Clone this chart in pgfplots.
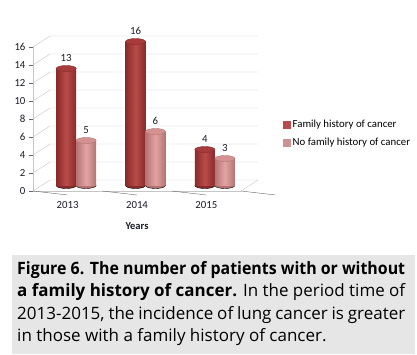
\documentclass[border=0pt]{standalone}
\usepackage{pgfplots}
\pgfplotsset{compat=1.18}
\usepackage{fontspec}
\setmainfont{Carlito}
\newfontfamily\capfont{Open Sans}
\definecolor{redA}{HTML}{B84C4A}
\definecolor{redD}{HTML}{8A2A2A}
\definecolor{redT}{HTML}{A53C3B}
\definecolor{pinkA}{HTML}{E2A4A3}
\definecolor{pinkD}{HTML}{B47372}
\definecolor{pinkT}{HTML}{D39291}
\definecolor{capbg}{HTML}{E6E6E6}
\definecolor{gridc}{HTML}{C4C4C4}
\definecolor{lblc}{HTML}{1A1A2A}
\pgfplotsset{
  redbar/.style={forget plot, ybar, bar width=20pt, bar shift=0pt, draw=none, left color=redD, right color=redD, middle color=redA},
  pinkbar/.style={forget plot, ybar, bar width=20pt, bar shift=0pt, draw=none, left color=pinkD, right color=pinkD, middle color=pinkA},
}
\begin{document}
\begin{tikzpicture}[x=1pt,y=1pt]
\path[use as bounding box] (0,0) rectangle (417,354);
\fill[capbg] (12,0) rectangle (415,99);
\node[anchor=base west, inner sep=0pt] at (17,80) {\parbox[t]{388pt}{\capfont\fontsize{17}{22.6}\selectfont\sloppy
\resizebox{388pt}{\height}{\bfseries Figure 6. The number of patients with or without}\par
\resizebox{388pt}{\height}{{\bfseries a family history of cancer.} In the period time of}\par
2013-2015, the incidence of lung cancer is greater\linebreak in those with a family history of cancer.}};

\begin{axis}[name=front, at={(33pt,163pt)}, anchor=south west, scale only axis,
  width=208pt, height=144pt, xmin=-0.5, xmax=2.5, ymin=0, ymax=16, clip=false,
  axis x line*=bottom, axis y line*=left, axis line style={draw=gray!45, -},
  ytick={0,2,...,16}, xtick={0,1,2}, xticklabels={2013,2014,2015},
  x tick style={draw=none}, y tick style={draw=gray!80!black},
  tick align=outside, major tick length=4pt,
  /pgf/number format/assume math mode=true,
  ticklabel style={font=\fontsize{10.8}{12}\selectfont, text=lblc},
  xticklabel style={yshift=-3pt},
  xlabel={\textbf{Years}}, xlabel style={font=\fontsize{10.5}{12}\selectfont, text=lblc, yshift=-7pt},
]
\pgfplotsinvokeforeach{0,2,...,16}{\draw[gridc] (axis cs:-0.5,#1) -- ++(17pt,11pt) -- ++(208pt,0pt);}
\draw[gridc] (axis cs:2.5,0) -- ++(17pt,11pt);
\pgfplotsinvokeforeach{-0.5,0.5,1.5,2.5}{\draw[gray!80!black] (axis cs:#1,0) -- ++(0,-4pt);}
\end{axis}

\begin{axis}[at={(41.5pt,168.5pt)}, anchor=south west, scale only axis,
  width=208pt, height=144pt, xmin=-0.5, xmax=2.5, ymin=0, ymax=16, clip=false,
  clip marker paths=true,
  axis lines=none,
  /pgf/number format/assume math mode=true,
  legend style={at={(1.147,0.483)}, anchor=north west, draw=none, fill=none,
    font=\fontsize{10.8}{12}\selectfont, row sep=5pt},
  legend cell align=left,
  nodes near coords style={font=\fontsize{10.8}{12}\selectfont, text=lblc, anchor=south, yshift=3pt},
]
\addlegendimage{legend image code/.code={\fill[redA] (0pt,-3.5pt) rectangle (7pt,3.5pt);}}
\addlegendentry{Family history of cancer}
\addlegendimage{legend image code/.code={\fill[pinkA!90!black] (0pt,-3.5pt) rectangle (7pt,3.5pt);}}
\addlegendentry{No family history of cancer}
% bottoms
\addplot[forget plot, only marks, mark=*, mark size=10pt, mark options={yscale=0.3, fill=redD, draw=none}] coordinates {(-0.144,0) (0.856,0) (1.856,0)};
\addplot[forget plot, only marks, mark=*, mark size=10pt, mark options={yscale=0.3, fill=pinkD, draw=none}] coordinates {(0.144,0) (1.144,0) (2.144,0)};
% bodies
\addplot[redbar] coordinates {(-0.144,13)};
\addplot[redbar] coordinates {(0.856,16)};
\addplot[redbar] coordinates {(1.856,4)};
\addplot[pinkbar] coordinates {(0.144,5)};
\addplot[pinkbar] coordinates {(1.144,6)};
\addplot[pinkbar] coordinates {(2.144,3)};
% tops
\addplot[forget plot, only marks, mark=*, mark size=10pt, mark options={yscale=0.3, fill=redT, draw=redD, line width=0.4pt}, nodes near coords] coordinates {(-0.144,13) (0.856,16) (1.856,4)};
\addplot[forget plot, only marks, mark=*, mark size=10pt, mark options={yscale=0.3, fill=pinkT, draw=pinkD, line width=0.4pt}, nodes near coords] coordinates {(0.144,5) (1.144,6) (2.144,3)};
\end{axis}
\end{tikzpicture}
\end{document}
